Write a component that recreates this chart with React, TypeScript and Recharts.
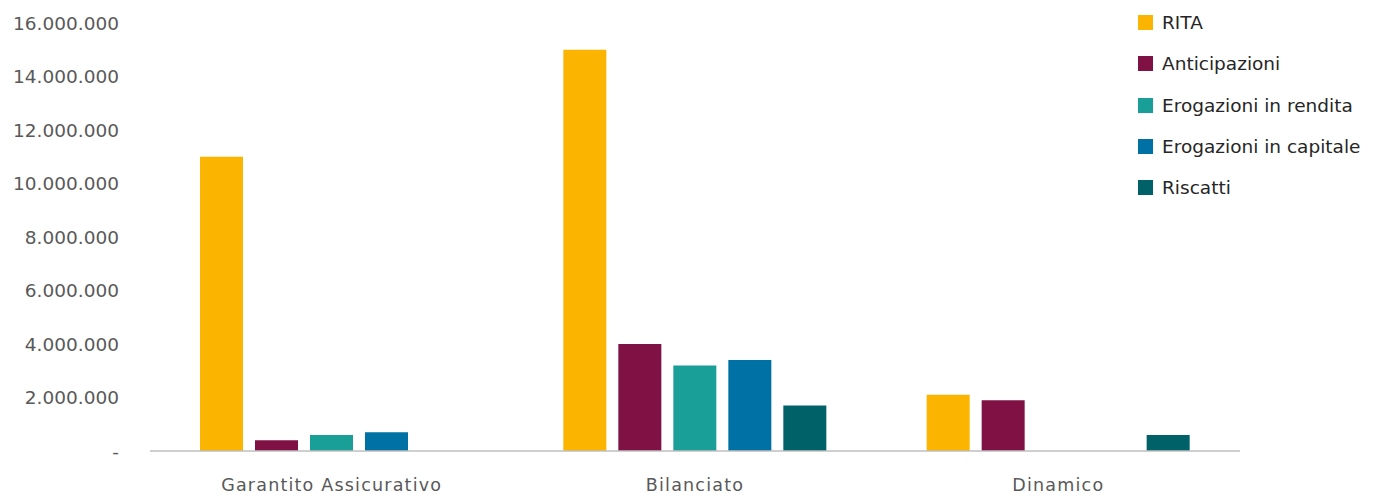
import { BarChart, Bar, XAxis, YAxis, Legend } from 'recharts';

const categories = ['Garantito Assicurativo', 'Bilanciato', 'Dinamico'];
const rita = [11000000, 15000000, 2100000];
const anticipazioni = [400000, 4000000, 1900000];
const erogazioniRendita = [600000, 3200000, 0];
const erogazioniCapitale = [700000, 3400000, 0];
const riscatti = [0, 1700000, 600000];
const yTicks = [0, 2000000, 4000000, 6000000, 8000000, 10000000, 12000000, 14000000, 16000000];

const series = [
  { key: 'rita', name: 'RITA', color: '#FBB400' },
  { key: 'anticipazioni', name: 'Anticipazioni', color: '#7F1145' },
  { key: 'rendita', name: 'Erogazioni in rendita', color: '#1A9E98' },
  { key: 'capitale', name: 'Erogazioni in capitale', color: '#0071A4' },
  { key: 'riscatti', name: 'Riscatti', color: '#006168' },
];

const data = categories.map((name, i) => ({
  name,
  rita: rita[i],
  anticipazioni: anticipazioni[i],
  rendita: erogazioniRendita[i],
  capitale: erogazioniCapitale[i],
  riscatti: riscatti[i],
}));

const FONT = '"DejaVu Sans", sans-serif';

function formatTick(v: number) {
  if (v === 0) return '-';
  return String(v).replace(/\B(?=(\d{3})+(?!\d))/g, '.');
}

function LegendContent() {
  return (
    <div style={{ fontFamily: FONT, fontSize: 18.5, color: '#262626' }}>
      {series.map(s => (
        <div key={s.key} style={{ display: 'flex', alignItems: 'center', height: 41.3 }}>
          <span style={{ width: 15, height: 15, background: s.color, marginRight: 9, display: 'inline-block' }} />
          <span>{s.name}</span>
        </div>
      ))}
    </div>
  );
}

export default function App() {
  return (
    <div style={{ position: 'absolute', left: 0, top: 0, background: '#fff' }}>
      <BarChart
        width={1377}
        height={497}
        data={data}
        margin={{ top: 23, right: 137, left: 0, bottom: 0 }}
        barCategoryGap={50}
        barGap={12}
      >
        <XAxis
          dataKey="name"
          height={46}
          tickLine={false}
          tickSize={0}
          tickMargin={28}
          axisLine={{ stroke: '#BFBFBF', strokeWidth: 1.5 }}
          tick={{ fill: '#595959', fontSize: 17.5, fontFamily: FONT, letterSpacing: 1.2 }}
        />
        <YAxis
          width={150}
          domain={[0, 16000000]}
          ticks={yTicks}
          interval={0}
          axisLine={false}
          tickLine={false}
          tickSize={0}
          tickMargin={31}
          tickFormatter={formatTick}
          tick={{ fill: '#595959', fontSize: 18.5, fontFamily: FONT }}
        />
        <Legend
          layout="horizontal"
          align="center"
          verticalAlign="middle"
          content={<LegendContent />}
          wrapperStyle={{ position: 'absolute', left: 1138, top: 2, width: 239 }}
        />
        {series.map(s => (
          <Bar key={s.key} dataKey={s.key} name={s.name} fill={s.color} isAnimationActive={false} />
        ))}
      </BarChart>
    </div>
  );
}
